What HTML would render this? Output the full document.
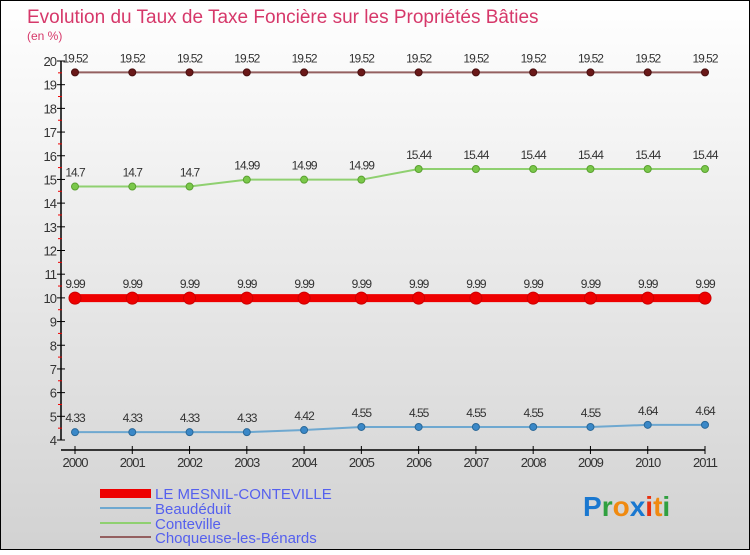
<!DOCTYPE html>
<html><head><meta charset="utf-8"><style>
body{margin:0;width:750px;height:550px;overflow:hidden;font-family:"Liberation Sans",sans-serif}
</style></head><body>
<svg width="750" height="550" xmlns="http://www.w3.org/2000/svg" font-family="Liberation Sans, sans-serif">
<defs><linearGradient id="bg" x1="0" y1="0" x2="0" y2="1"><stop offset="0" stop-color="#ffffff"/><stop offset="1" stop-color="#d2d2d2"/></linearGradient></defs>
<rect x="0.5" y="0.5" width="749" height="549" fill="url(#bg)" stroke="#000"/>
<text x="27" y="23" font-size="19" fill="#d6386a">Evolution du Taux de Taxe Foncière sur les Propriétés Bâties</text>
<text x="27" y="40" font-size="12" fill="#d6386a">(en %)</text>
<g id="axes"></g>
<g id="series"></g>
<g id="legend">
<rect x="100" y="489" width="51" height="9" fill="#ee0000"/>
<text x="155" y="499" font-size="15" fill="#5560ee">LE MESNIL-CONTEVILLE</text>
<line x1="100" y1="508" x2="151" y2="508" stroke="#6ea8d0" stroke-width="2"/>
<text x="155" y="514" font-size="15" fill="#5560ee">Beaudéduit</text>
<line x1="100" y1="523" x2="151" y2="523" stroke="#8fd070" stroke-width="2"/>
<text x="155" y="529" font-size="15" fill="#5560ee">Conteville</text>
<line x1="100" y1="537" x2="151" y2="537" stroke="#946060" stroke-width="2"/>
<text x="155" y="543" font-size="15" fill="#5560ee">Choqueuse-les-Bénards</text>
</g>
<g font-size="28" font-weight="bold">
<text x="583" y="516"><tspan fill="#1a78d0">P</tspan><tspan fill="#30a040">r</tspan><tspan fill="#f08a10">o</tspan><tspan fill="#1a78d0">x</tspan><tspan fill="#e83010">i</tspan><tspan fill="#f08a10">t</tspan><tspan fill="#30a040">i</tspan></text>
</g>
</svg>
<script>
const years=["2000","2001","2002","2003","2004","2005","2006","2007","2008","2009","2010","2011"];
const mesnil=[9.99,9.99,9.99,9.99,9.99,9.99,9.99,9.99,9.99,9.99,9.99,9.99];
const beaudeduit=[4.33,4.33,4.33,4.33,4.42,4.55,4.55,4.55,4.55,4.55,4.64,4.64];
const conteville=[14.7,14.7,14.7,14.99,14.99,14.99,15.44,15.44,15.44,15.44,15.44,15.44];
const choqueuse=[19.52,19.52,19.52,19.52,19.52,19.52,19.52,19.52,19.52,19.52,19.52,19.52];
const yTicks=[4,5,6,7,8,9,10,11,12,13,14,15,16,17,18,19,20];
const NS="http://www.w3.org/2000/svg";
const X=i=>75+i*(630/11);
const Y=v=>440-(v-4)*(379/16);
function mk(tag,attrs,parent){const e=document.createElementNS(NS,tag);for(const k in attrs)e.setAttribute(k,attrs[k]);parent.appendChild(e);return e;}
const ax=document.getElementById('axes');
let a=mk('line',{x1:61,y1:Y(20),x2:61,y2:Y(4),stroke:'#000','stroke-width':1.5},ax);


a=mk('line',{x1:61,y1:450,x2:X(11),y2:450,stroke:'#000','stroke-width':1.5},ax);


yTicks.forEach(v=>{
 mk('line',{x1:57,x2:65,y1:Y(v),y2:Y(v),stroke:'#000'},ax);
 if(v<20){mk('line',{x1:58,x2:62,y1:Y(v+0.5),y2:Y(v+0.5),stroke:'#e00'},ax);}
 const t=mk('text',{x:56,y:Y(v)+5,'text-anchor':'end','font-size':13,fill:'#333','letter-spacing':'-1'},ax);
 t.textContent=v;
 
 
});
years.forEach((y,i)=>{
 mk('line',{x1:X(i),x2:X(i),y1:446,y2:454,stroke:'#000'},ax);
 const t=mk('text',{x:X(i),y:467,'text-anchor':'middle','font-size':13,fill:'#333','letter-spacing':'-1'},ax);
 t.textContent=y;
 
 
});
const sg=document.getElementById('series');
function draw(name,data,color,dot,w,r,lab){
 const g=mk('g',{},sg);
 
 
 const p=mk('polyline',{points:data.map((v,i)=>X(i)+','+Y(v)).join(' '),fill:'none',stroke:color,'stroke-width':w},g);
 
 
 data.forEach((v,i)=>{
  const c=mk('circle',{cx:X(i),cy:Y(v),r:r,fill:dot,stroke:lab},g);
  
  
  const t=mk('text',{x:X(i),y:Y(v)-10,'text-anchor':'middle','font-size':12,fill:'#333','letter-spacing':'-1'},g);
  t.textContent=String(v).replace('.','.');
  
  
 });
}
draw('choqueuse',choqueuse,'#946060','#6a1818',2,3.5,'#4a1010');
draw('conteville',conteville,'#8fd070','#7ac84a',2,3.5,'#5aa030');
draw('mesnil',mesnil,'#ee0000','#ee0000',8,6,'#cc0000');
draw('beaudeduit',beaudeduit,'#6ea8d0','#3a88c8',2,3.5,'#2a6898');
</script>
</body></html>
